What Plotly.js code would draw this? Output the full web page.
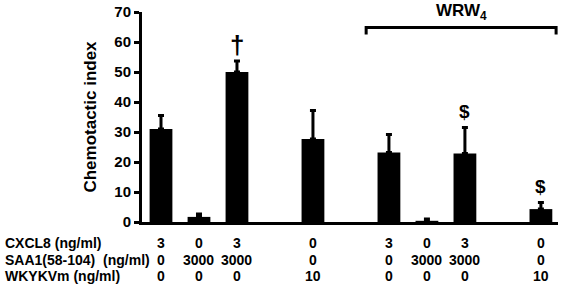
<!DOCTYPE html>
<html><head><meta charset="utf-8">
<script src="https://cdn.plot.ly/plotly-3.0.1.min.js"></script>
<style>html,body{margin:0;padding:0;background:#fff}#chart{width:561px;height:286px}</style>
</head><body><div id="chart"></div>
<script>
// Bar slot positions (gaps between groups)
const slots = [0, 1, 2, 4, 6, 7, 8, 10];
// Condition table rows
const rowLabels = ['CXCL8 (ng/ml)', 'SAA1(58-104)  (ng/ml)', 'WKYKVm (ng/ml)'];
const cxcl8 = ['3', '0', '3', '0', '3', '0', '3', '0'];
const saa1 = ['0', '3000', '3000', '0', '0', '3000', '3000', '0'];
const wkykvm = ['0', '0', '0', '10', '0', '0', '0', '10'];
// Chemotactic index values and upper error
const chemoIndex = [31, 1.7, 50, 27.7, 23.2, 0.4, 22.8, 4.3];
const errUp = [4.5, 1.0, 3.7, 9.5, 6.0, 0.6, 8.7, 2.2];
// Significance marks
const markSlots = [2, 8, 10];
const markText = ['†', '$', '$'];
const markY = [59, 37, 12];

const font = {family: 'Liberation Sans, Arial, sans-serif', color: '#000', weight: 'bold'};

const trace = {
  type: 'bar', x: slots, y: chemoIndex, width: 0.6,
  marker: {color: '#000', line: {width: 0}},
  error_y: {type: 'data', array: errUp, arrayminus: errUp.map(() => 0), symmetric: false,
            color: '#000', thickness: 3, width: 3},
  hoverinfo: 'none'
};

const annotations = [];
const rows = [cxcl8, saa1, wkykvm];
const rowY = [-0.1, -0.182, -0.258];
rows.forEach((row, r) => {
  annotations.push({xref: 'paper', yref: 'paper', x: -0.335, y: rowY[r], xanchor: 'left', yanchor: 'middle',
    text: rowLabels[r], showarrow: false, font: Object.assign({size: 14}, font)});
  row.forEach((v, i) => {
    annotations.push({xref: 'x', yref: 'paper', x: slots[i], y: rowY[r], xanchor: 'center', yanchor: 'middle',
      text: v, showarrow: false, font: Object.assign({size: 14}, font)});
  });
});
markSlots.forEach((s, i) => {
  annotations.push({xref: 'x', yref: 'y', x: s, y: markY[i], text: markText[i], showarrow: false,
    font: Object.assign({size: markText[i] === '†' ? 26 : 19}, font)});
});
annotations.push({xref: 'x', yref: 'paper', x: 7.9, y: 1.0, yanchor: 'middle', text: 'WRW<sub>4</sub>',
  showarrow: false, font: Object.assign({size: 17}, font)});

const layout = {
  width: 561, height: 286,
  margin: {l: 142, r: 3, t: 12, b: 64},
  paper_bgcolor: '#fff', plot_bgcolor: '#fff',
  showlegend: false,
  xaxis: {range: [-0.5, 10.45], showticklabels: false, ticks: '', showgrid: false, zeroline: false,
          showline: true, linecolor: '#000', linewidth: 3, fixedrange: true},
  yaxis: {range: [0, 70], dtick: 10, ticks: 'outside', ticklen: 5, tickwidth: 3, tickcolor: '#000',
          showgrid: false, zeroline: false, showline: true, linecolor: '#000', linewidth: 3,
          tickfont: Object.assign({size: 15}, font),
          title: {text: 'Chemotactic index', font: Object.assign({size: 17}, font), standoff: 14}},
  shapes: [{type: 'path', xref: 'x', yref: 'y', path: 'M 5.4 62.5 L 5.4 64.8 L 10.4 64.8 L 10.4 62.5',
            line: {color: '#000', width: 3}}],
  annotations: annotations
};
Plotly.newPlot('chart', [trace], layout, {displayModeBar: false, staticPlot: true});
</script></body></html>
